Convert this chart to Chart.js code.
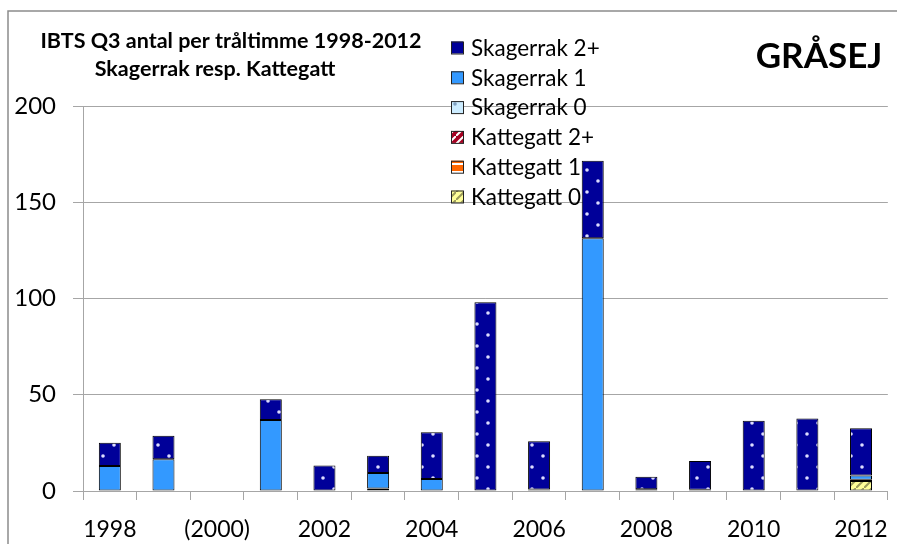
<!DOCTYPE html>
<html>
<head>
<meta charset="utf-8">
<script src="https://cdn.jsdelivr.net/npm/chart.js@4.4.1/dist/chart.umd.min.js"></script>
<style>
  body { margin: 0; background: #fff; }
  #wrap { width: 904px; height: 544px; }
</style>
</head>
<body>
<div id="wrap"><canvas id="chart-grasej" width="904" height="544"></canvas></div>
<script>
const years = ['1998', '1999', '2000', '2001', '2002', '2003', '2004', '2005', '2006', '2007', '2008', '2009', '2010', '2011', '2012'];
const tickLabels = ['1998', '', '(2000)', '', '2002', '', '2004', '', '2006', '', '2008', '', '2010', '', '2012'];

// stacked bottom-up: Kattegatt 0, 1, 2+, then Skagerrak 0, 1, 2+
const kattegatt0 = [0, 0, 0, 0, 0, 1.0, 0, 0, 0, 0, 0, 0, 0, 0, 5.2];
const kattegatt1 = [0, 0, 0, 0, 0, 0, 0, 0, 0, 0, 0, 0, 0, 0, 0];
const kattegatt2 = [0, 0, 0, 0, 0, 0, 0, 0, 0.8, 0, 0, 0, 0, 0, 0];
const skagerrak0 = [0, 0, 0, 0, 0, 0.3, 0, 0, 0, 0, 0, 0, 0, 0, 0.6];
const skagerrak1 = [13.0, 16.5, 0, 36.9, 0, 8.0, 6.2, 0, 0, 131.3, 0.9, 0.6, 0, 0, 2.3];
const skagerrak2 = [12.1, 12.2, 0, 10.7, 13.3, 9.0, 24.3, 98.0, 25.0, 40.3, 6.5, 15.0, 36.5, 37.6, 24.5];

const chartTitle = ['IBTS Q3 antal per tråltimme 1998-2012', 'Skagerrak resp. Kattegatt'];
const speciesName = 'GRÅSEJ';

Chart.defaults.font.family = 'Lato';
Chart.defaults.color = '#000';

function makePattern(bg, kind, fg) {
    const c = document.createElement('canvas');
    const size = kind === 'dots' ? 22 : 8;
    c.width = size;
    c.height = size;
    const g = c.getContext('2d');
    g.fillStyle = bg;
    g.fillRect(0, 0, size, size);
    if (kind === 'dots') {
        g.fillStyle = fg;
        [[4, 5], [15, 16]].forEach(p => {
            g.beginPath();
            g.arc(p[0], p[1], 1.8, 0, Math.PI * 2);
            g.fill();
        });
    } else if (kind === 'diag') {
        g.strokeStyle = fg;
        g.lineWidth = 2;
        g.beginPath();
        g.moveTo(-2, size + 2);
        g.lineTo(size + 2, -2);
        g.stroke();
    } else if (kind === 'hband') {
        g.fillStyle = fg;
        g.fillRect(0, 3, size, 2);
    }
    return g.createPattern(c, 'repeat');
}

function createDataSet(label, values, fill) {
    return {
        label,
        data: values.map(v => v || null),
        backgroundColor: fill,
        borderColor: '#000',
        borderWidth: 1,
        borderSkipped: false,
        categoryPercentage: 1,
        barPercentage: 0.41,
    }
}

const datasets = [
    createDataSet('Kattegatt 0', kattegatt0, makePattern('#FFFF99', 'diag', '#9a9a5a')),
    createDataSet('Kattegatt 1', kattegatt1, makePattern('#FF6600', 'hband', '#ffffff')),
    createDataSet('Kattegatt 2+', kattegatt2, makePattern('#A50021', 'diag', '#ffffff')),
    createDataSet('Skagerrak 0', skagerrak0, makePattern('#CCECFF', 'dots', '#7f9fbf')),
    createDataSet('Skagerrak 1', skagerrak1, '#3399FF'),
    createDataSet('Skagerrak 2+', skagerrak2, makePattern('#000099', 'dots', '#dcdcff')),
];

const framePlugin = {
    id: 'frame',
    beforeDraw(chart) {
        const ctx = chart.ctx;
        ctx.save();
        ctx.strokeStyle = '#8c8c8c';
        ctx.lineWidth = 1.5;
        ctx.beginPath();
        ctx.moveTo(8, 544);
        ctx.lineTo(8, 11);
        ctx.lineTo(897, 11);
        ctx.stroke();
        ctx.restore();
    },
    afterDatasetsDraw(chart) {
        const ctx = chart.ctx;
        ctx.save();
        // title
        ctx.fillStyle = '#000';
        ctx.textAlign = 'center';
        ctx.textBaseline = 'middle';
        ctx.font = 'bold 21.5px Lato';
        ctx.fillText(chartTitle[0], 231, 41);
        ctx.fillText(chartTitle[1], 215, 69);
        ctx.font = 'bold 35px Lato';
        ctx.fillText(speciesName, 819, 57);

        // legend, top row is the last (top) dataset
        ctx.textAlign = 'left';
        ctx.font = '22.5px Lato';
        const ds = chart.data.datasets.slice().reverse();
        ds.forEach((d, i) => {
            const cy = 47.5 + i * 29.8;
            ctx.fillStyle = d.backgroundColor;
            ctx.fillRect(451, cy - 6, 12, 12);
            ctx.strokeStyle = '#222';
            ctx.lineWidth = 1;
            ctx.strokeRect(451.5, cy - 5.5, 12, 12);
            ctx.fillStyle = '#000';
            ctx.fillText(d.label, 471, cy + 1);
        });
        ctx.restore();
    }
};

const ctx = document.getElementById('chart-grasej');
const chart = new Chart(ctx, {
    type: 'bar',
    data: { labels: years, datasets },
    plugins: [framePlugin],
    options: {
        responsive: false,
        animation: false,
        layout: { padding: { top: 106, right: 9, left: 0, bottom: 0 } },
        plugins: {
            legend: { display: false },
            tooltip: { enabled: false },
        },
        scales: {
            x: {
                stacked: true,
                offset: true,
                grid: {
                    offset: true,
                    drawOnChartArea: false,
                    drawTicks: true,
                    tickLength: 9,
                    color: '#a6a6a6',
                },
                border: { color: '#a6a6a6' },
                ticks: {
                    autoSkip: false,
                    maxRotation: 0,
                    padding: 16,
                    font: { size: 23 },
                    color: '#000',
                    callback: (value, index) => tickLabels[index],
                },
                afterFit: scale => { scale.height = 53; },
            },
            y: {
                stacked: true,
                min: 0,
                max: 200,
                grid: {
                    color: '#a6a6a6',
                    tickLength: 10,
                },
                border: { color: '#a6a6a6' },
                ticks: {
                    stepSize: 50,
                    padding: 17,
                    font: { size: 24 },
                    color: '#000',
                },
                afterFit: scale => { scale.width = 83; },
            },
        },
    },
});
</script>
</body>
</html>
